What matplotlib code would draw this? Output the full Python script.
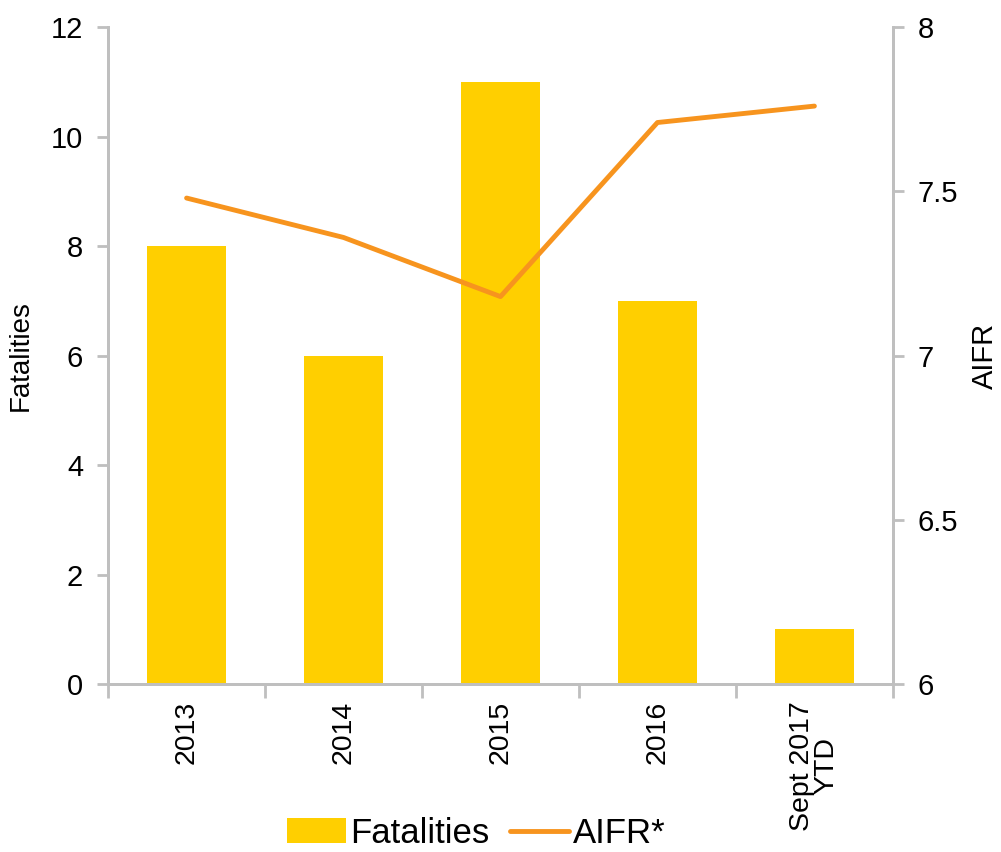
import numpy as np
import matplotlib.pyplot as plt

plt.rcParams['font.family'] = ['Liberation Sans', 'DejaVu Sans']

categories = ["2013", "2014", "2015", "2016", "Sept 2017\nYTD"]
fatalities = [8, 6, 11, 7, 1]
aifr = [7.48, 7.36, 7.18, 7.71, 7.76]

bar_color = "#FFCF00"
line_color = "#F7941E"
grey = "#BFBFBF"

fig = plt.figure(figsize=(10.01, 8.52), dpi=100)
ax = fig.add_axes([0.108, 0.197, 0.784, 0.771])
x = np.arange(len(categories))

b = ax.bar(x, fatalities, width=0.5, color=bar_color, label="Fatalities", zorder=2)
ax.set_xlim(-0.5, len(categories) - 0.5)
ax.set_ylim(0, 12)
ax.set_yticks(np.arange(0, 13, 2))
ax.set_ylabel("Fatalities", fontsize=20, labelpad=12)

ax.set_xticks(x)
ax.set_xticklabels(categories, rotation=90, fontsize=20.5, linespacing=0.9)
ax.set_xticks(np.arange(-0.5, len(categories), 1), minor=True)
ax.tick_params(axis='x', which='major', length=0, pad=12)
ax.tick_params(axis='x', which='minor', length=10, width=2, color=grey, direction='out')
ax.tick_params(axis='y', length=8, width=2, color=grey, labelsize=21, pad=10)

ax2 = ax.twinx()
l, = ax2.plot(x, aifr, color=line_color, linewidth=3.5, solid_capstyle='round',
              label="AIFR*", zorder=3)
ax2.set_ylim(6, 8)
ax2.set_yticks([6, 6.5, 7, 7.5, 8])
ax2.set_yticklabels(["6", "6.5", "7", "7.5", "8"])
ax2.set_ylabel("AIFR", fontsize=21, labelpad=9)
ax2.tick_params(axis='y', length=8, width=2, color=grey, labelsize=21, pad=10)

for a in (ax, ax2):
    a.spines['top'].set_visible(False)
    for s in ('left', 'right', 'bottom'):
        a.spines[s].set_color(grey)
        a.spines[s].set_linewidth(2)

fig.legend(handles=[b, l], labels=["Fatalities", "AIFR*"], loc='center',
           bbox_to_anchor=(0.476, 0.022), ncol=2, frameon=False, fontsize=25,
           handlelength=1.7, handletextpad=0.12, columnspacing=0.6,
           borderpad=0, borderaxespad=0)

fig.savefig("out.png", dpi=100)
